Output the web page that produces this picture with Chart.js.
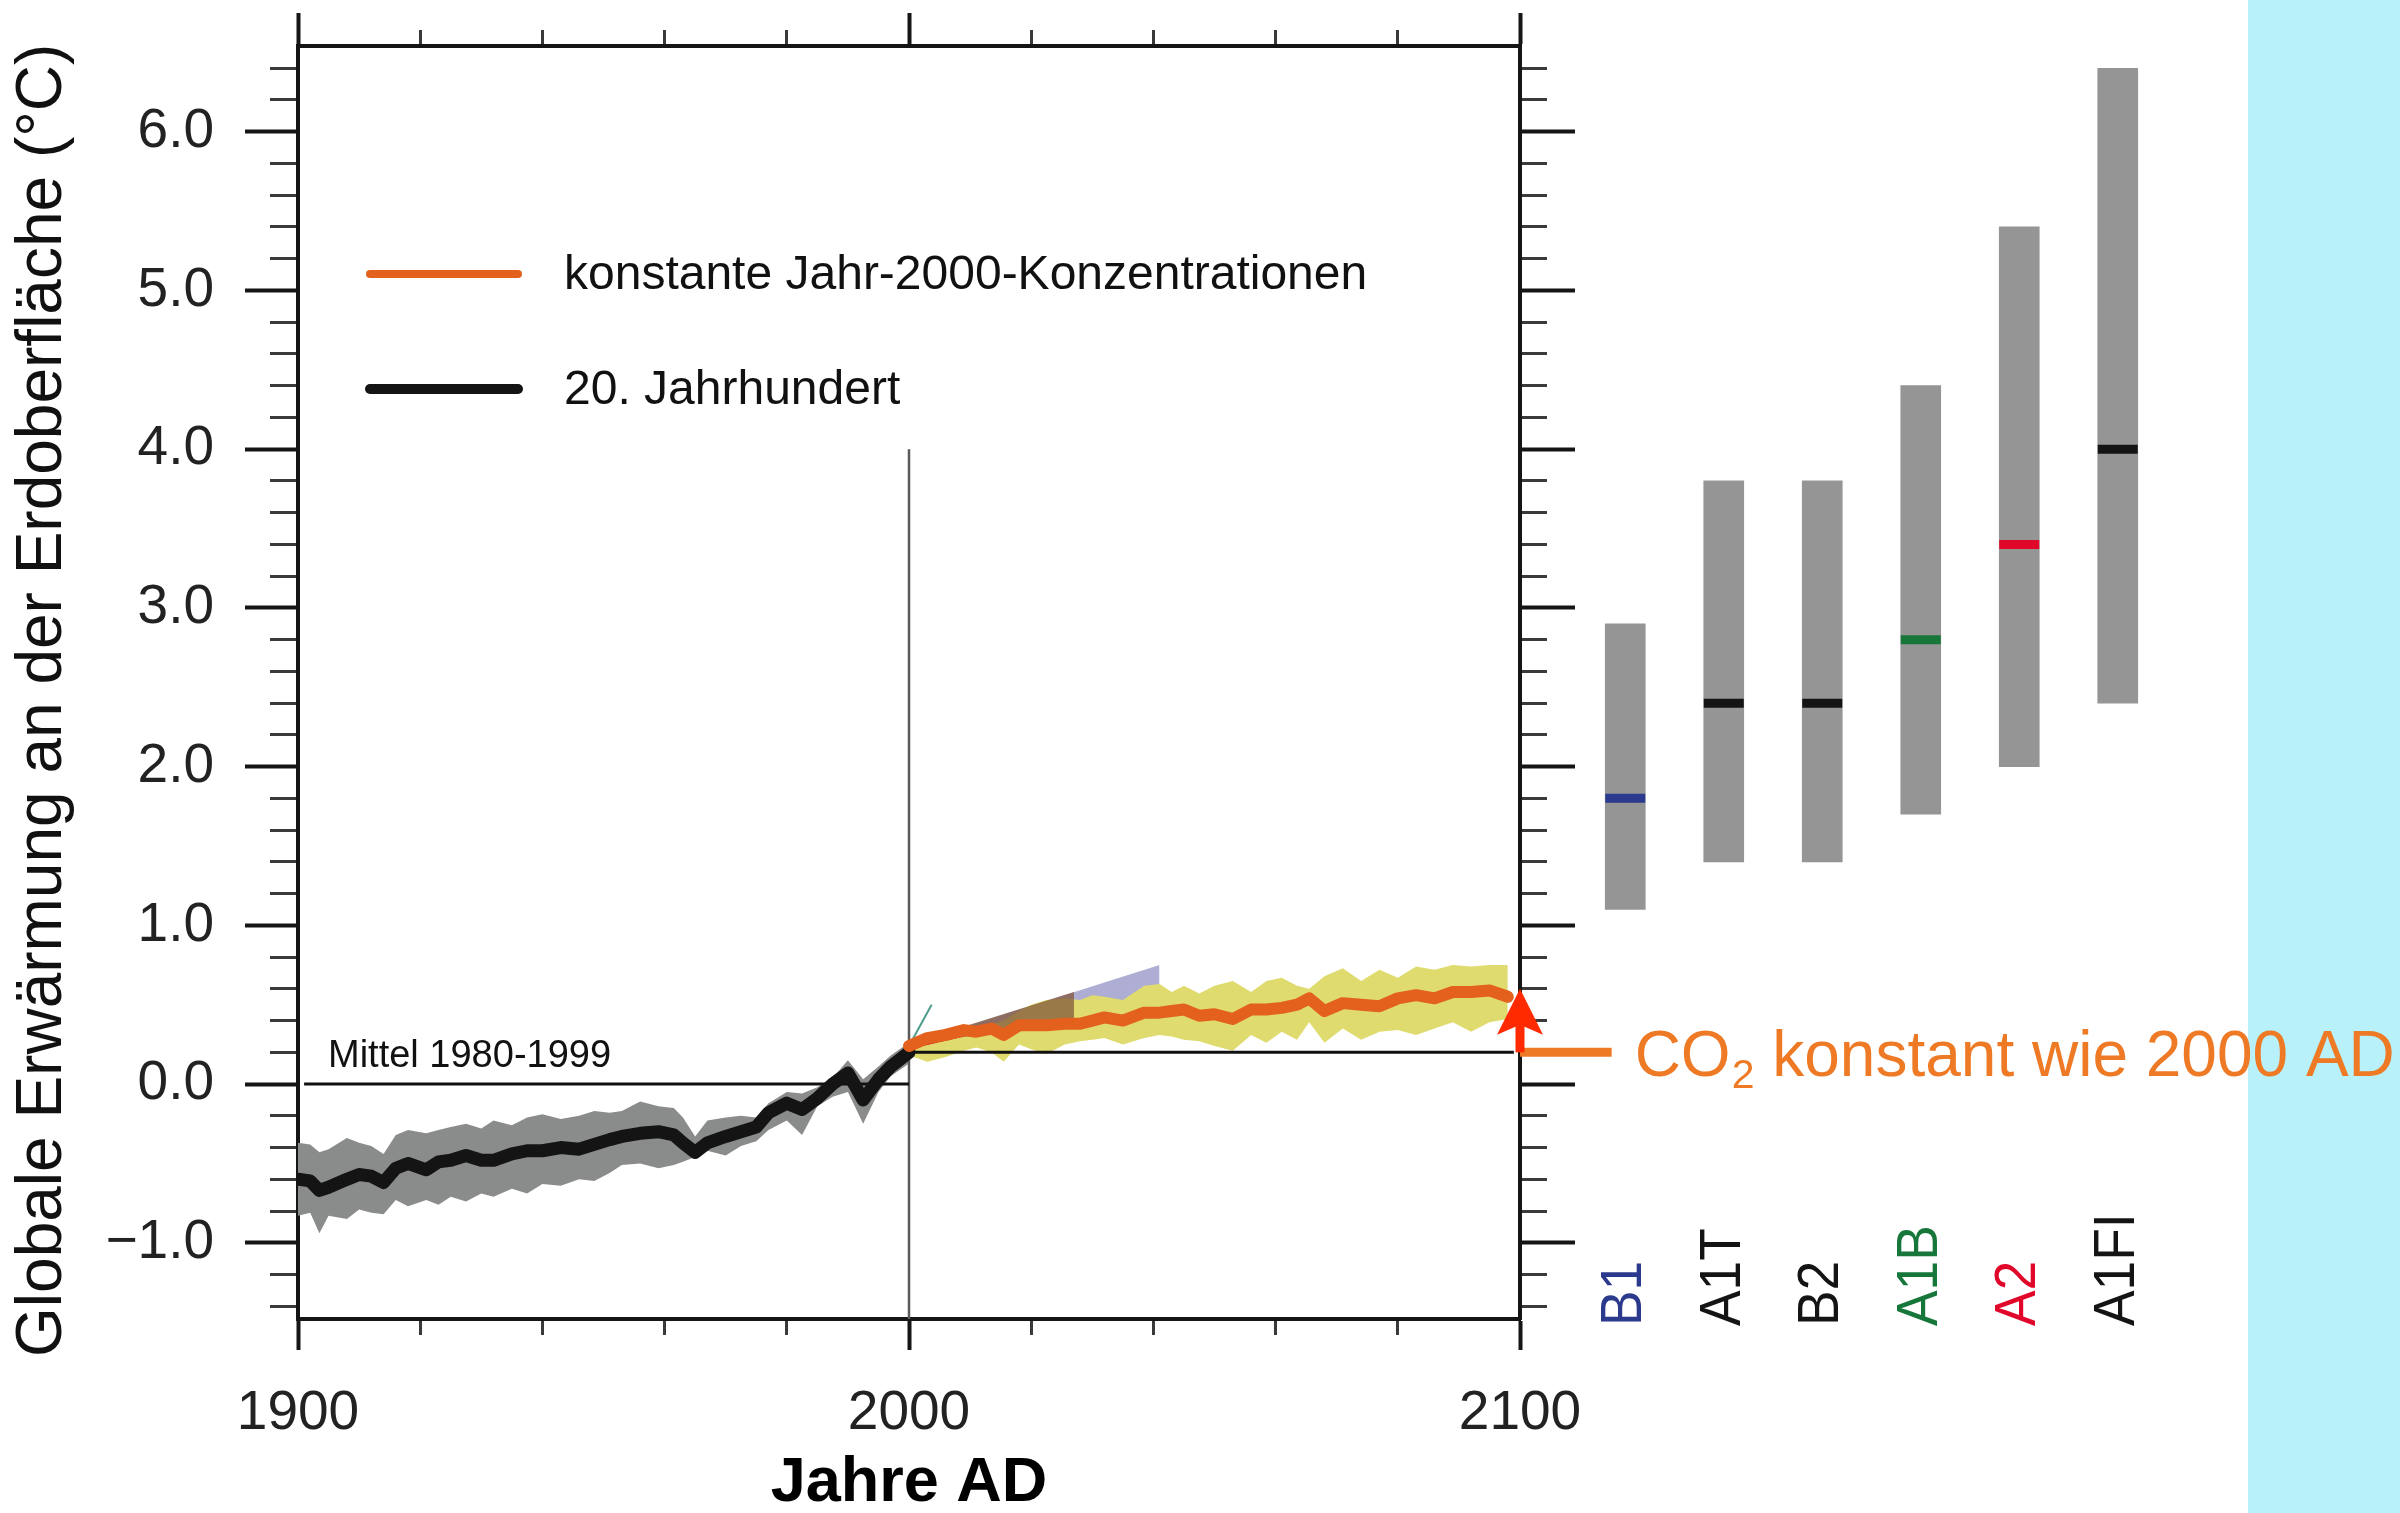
<!DOCTYPE html>
<html>
<head>
<meta charset="utf-8">
<script src="https://cdn.jsdelivr.net/npm/chart.js@4.4.1/dist/chart.umd.min.js"></script>
<style>
  html, body { margin: 0; padding: 0; background: #fff; }
  #wrap { position: relative; width: 2400px; height: 1513px; overflow: hidden; background: #fff; }
  #strip { position: absolute; left: 2248px; top: 0; width: 152px; height: 1513px; background: #b9f1fb; }
  canvas { position: absolute; left: 0; top: 0; }
</style>
</head>
<body>
<div id="wrap">
  <div id="strip"></div>
  <canvas id="main" width="2400" height="1513"></canvas>
  <canvas id="bars" width="2400" height="1513"></canvas>
</div>
<script>
// Axis range
const Y_MIN = -1.48;
const Y_MAX = 6.54;

// 20. Jahrhundert: Modellmittel und Bandbreite
const histYears = [1900, 1902, 1903.5, 1905, 1908, 1910, 1912, 1914, 1916, 1918, 1921, 1923, 1925, 1927.5, 1930, 1932, 1935, 1937.5, 1940, 1943, 1946, 1948.5, 1951, 1953, 1956, 1959, 1961.5, 1963, 1965, 1967, 1970, 1972.5, 1975, 1977, 1980, 1982.5, 1985, 1987.5, 1990, 1992.5, 1995, 1997, 2000];
const histMean  = [-0.60, -0.61, -0.67, -0.65, -0.60, -0.57, -0.58, -0.62, -0.53, -0.50, -0.54, -0.49, -0.48, -0.45, -0.48, -0.48, -0.44, -0.42, -0.42, -0.40, -0.41, -0.38, -0.35, -0.33, -0.31, -0.30, -0.32, -0.37, -0.43, -0.37, -0.33, -0.30, -0.27, -0.18, -0.12, -0.16, -0.09, 0.00, 0.07, -0.10, 0.03, 0.11, 0.20];
const histUpper = [-0.37, -0.38, -0.43, -0.41, -0.34, -0.37, -0.39, -0.44, -0.32, -0.29, -0.31, -0.29, -0.27, -0.25, -0.28, -0.23, -0.26, -0.21, -0.19, -0.22, -0.20, -0.17, -0.18, -0.17, -0.11, -0.14, -0.15, -0.21, -0.33, -0.23, -0.21, -0.20, -0.21, -0.12, -0.05, -0.06, -0.02, 0.04, 0.15, 0.03, 0.11, 0.18, 0.26];
const histLower = [-0.83, -0.81, -0.94, -0.83, -0.85, -0.79, -0.81, -0.82, -0.73, -0.77, -0.73, -0.76, -0.71, -0.74, -0.69, -0.71, -0.66, -0.69, -0.63, -0.64, -0.60, -0.61, -0.56, -0.51, -0.50, -0.53, -0.51, -0.49, -0.46, -0.42, -0.45, -0.39, -0.36, -0.29, -0.23, -0.32, -0.14, -0.08, -0.05, -0.25, -0.05, 0.05, 0.13];

// konstante Jahr-2000-Konzentrationen
const futYears = [2000, 2003, 2006, 2009, 2011, 2013.5, 2015.5, 2018, 2020, 2022.5, 2025.5, 2028, 2030, 2032, 2035, 2038.5, 2041, 2043, 2045, 2047.5, 2050, 2053, 2056, 2058.5, 2061, 2063.5, 2065.5, 2068, 2071, 2074, 2077, 2080, 2083, 2086, 2089, 2092, 2095, 2098];
const futMean  = [0.24, 0.29, 0.31, 0.34, 0.33, 0.35, 0.31, 0.37, 0.37, 0.37, 0.38, 0.38, 0.40, 0.42, 0.40, 0.45, 0.45, 0.46, 0.47, 0.43, 0.44, 0.41, 0.47, 0.47, 0.48, 0.50, 0.54, 0.46, 0.51, 0.50, 0.49, 0.54, 0.56, 0.54, 0.58, 0.58, 0.59, 0.55];
const futUpper = [0.26, 0.31, 0.30, 0.33, 0.36, 0.38, 0.40, 0.46, 0.50, 0.53, 0.54, 0.53, 0.56, 0.55, 0.53, 0.62, 0.63, 0.58, 0.62, 0.57, 0.62, 0.65, 0.58, 0.65, 0.67, 0.62, 0.60, 0.68, 0.73, 0.65, 0.72, 0.67, 0.74, 0.72, 0.75, 0.74, 0.75, 0.75];
const futLower = [0.18, 0.14, 0.17, 0.21, 0.23, 0.20, 0.14, 0.25, 0.22, 0.19, 0.25, 0.27, 0.28, 0.29, 0.25, 0.29, 0.31, 0.30, 0.28, 0.27, 0.24, 0.21, 0.31, 0.26, 0.33, 0.28, 0.39, 0.26, 0.35, 0.28, 0.33, 0.34, 0.31, 0.35, 0.39, 0.33, 0.39, 0.41];

// Reste der Szenario-Kurven nach 2000 (teilweise verdeckt)
const wedgeYears  = [2000, 2041];
const wedgeTop    = [0.25, 0.75];
const wedgeBottom = [0.22, 0.48];
const brownYears  = [2003, 2027];
const brownTop    = [0.29, 0.58];
const brownBottom = [0.27, 0.38];
const redYears    = [2000, 2009];
const redTop      = [0.26, 0.36];
const redBottom   = [0.22, 0.30];
const tealYears   = [2000, 2003.7];
const tealVals    = [0.24, 0.50];

// Referenzlinien
const meanYears  = [1901, 2000];   // Mittel 1980-1999
const meanLevel  = 0.0;
const constYears = [2000, 2099];
const constLevel = 0.2;
const splitYear  = 2000;
const splitTop   = 4.0;
const arrowYear  = 2100;
const arrowFrom  = 0.2;
const arrowTo    = 0.6;
const co2LineEnd = 2115;

// Szenarien 2090-2099
const scenarios = ['B1', 'A1T', 'B2', 'A1B', 'A2', 'A1FI'];
const scenLow   = [1.1, 1.4, 1.4, 1.7, 2.0, 2.4];
const scenHigh  = [2.9, 3.8, 3.8, 4.4, 5.4, 6.4];
const scenBest  = [1.8, 2.4, 2.4, 2.8, 3.4, 4.0];
const scenColors = ['#2b3a8c', '#141414', '#141414', '#17773a', '#e0072b', '#141414'];

// Ticks
const yMajorTicks = [-1, 0, 1, 2, 3, 4, 5, 6];
const yMinorTicks = [-1.4, -1.2, -0.8, -0.6, -0.4, -0.2, 0.2, 0.4, 0.6, 0.8, 1.2, 1.4, 1.6, 1.8, 2.2, 2.4, 2.6, 2.8, 3.2, 3.4, 3.6, 3.8, 4.2, 4.4, 4.6, 4.8, 5.2, 5.4, 5.6, 5.8, 6.2, 6.4];
const xMajorTicks = [1900, 2000, 2100];
const xMinorTicks = [1920, 1940, 1960, 1980, 2020, 2040, 2060, 2080];

const ORANGE = '#e3611d';
const BLACK = '#141414';
const RED = '#ff2a00';
const TXT_ORANGE = '#ee7a26';
const FONT = "'Liberation Sans', Arial, Helvetica, sans-serif";

Chart.defaults.font.family = FONT;
Chart.defaults.color = '#222';

const pts = (xs, ys) => xs.map((x, i) => ({ x: x, y: ys[i] }));
const flat = (xs, v) => xs.map(x => ({ x: x, y: v }));
const setTicks = vals => scale => { scale.ticks = vals.map(v => ({ value: v })); };
// fixed box size, and no extra padding from the tick labels
const fixSize = (w, h) => s => {
  if (w !== null) s.width = w;
  if (h !== null) s.height = h;
  s.paddingTop = s.paddingBottom = s.paddingLeft = s.paddingRight = 0;
};

function band(xs, ys, color, order) {
  return { data: pts(xs, ys), fill: '+1', backgroundColor: color, borderWidth: 0, pointRadius: 0, order: order };
}
function edge(xs, ys, order) {
  return { data: pts(xs, ys), fill: false, borderWidth: 0, pointRadius: 0, order: order };
}

function axis(pos, ticks, len, width, major, extra) {
  const horiz = pos === 'top' || pos === 'bottom';
  return Object.assign({
    type: 'linear',
    position: pos,
    weight: major ? 1 : 0,
    min: horiz ? 1900 : Y_MIN,
    max: horiz ? 2100 : Y_MAX,
    afterBuildTicks: setTicks(ticks),
    ticks: { display: false, autoSkip: false, maxRotation: 0 },
    grid: { drawOnChartArea: false, drawTicks: true, tickLength: len, tickWidth: width, tickColor: major ? '#151515' : '#3a3a3a' },
    border: { display: major, width: 4, color: '#151515' },
    afterFit: horiz ? fixSize(null, 0) : fixSize(0, null)
  }, extra || {});
}

const annotations = {
  id: 'annotations',
  afterDatasetsDraw(chart) {
    const { ctx, scales: { x, y }, chartArea } = chart;
    ctx.save();

    // Pfeilspitze
    const ax = x.getPixelForValue(arrowYear);
    const tip = y.getPixelForValue(arrowTo);
    ctx.fillStyle = RED;
    ctx.beginPath();
    ctx.moveTo(ax, tip);
    ctx.lineTo(ax - 23, tip + 46);
    ctx.lineTo(ax, tip + 36);
    ctx.lineTo(ax + 23, tip + 46);
    ctx.closePath();
    ctx.fill();

    // Mittel 1980-1999
    ctx.fillStyle = '#111';
    ctx.font = '38px ' + FONT;
    ctx.textAlign = 'left';
    ctx.textBaseline = 'alphabetic';
    ctx.fillText('Mittel 1980-1999', chartArea.left + 30, y.getPixelForValue(meanLevel) - 17);

    // CO2 konstant wie 2000 AD
    let tx = x.getPixelForValue(co2LineEnd) + 23;
    const ty = y.getPixelForValue(constLevel) + 24;
    ctx.fillStyle = TXT_ORANGE;
    ctx.font = '64px ' + FONT;
    ctx.fillText('CO', tx, ty);
    tx += ctx.measureText('CO').width + 1;
    ctx.font = '41px ' + FONT;
    ctx.fillText('2', tx, ty + 12);
    tx += ctx.measureText('2').width;
    ctx.font = '64px ' + FONT;
    ctx.fillText(' konstant wie 2000 AD', tx, ty);

    // Legende
    const items = [
      { color: ORANGE, w: 8, y: 274, text: 'konstante Jahr-2000-Konzentrationen', base: 289 },
      { color: BLACK, w: 10, y: 389, text: '20. Jahrhundert', base: 404 }
    ];
    ctx.lineCap = 'round';
    items.forEach(it => {
      ctx.strokeStyle = it.color;
      ctx.lineWidth = it.w;
      ctx.beginPath();
      ctx.moveTo(370, it.y);
      ctx.lineTo(518, it.y);
      ctx.stroke();
      ctx.fillStyle = '#111';
      ctx.font = '48px ' + FONT;
      ctx.fillText(it.text, 564, it.base);
    });
    ctx.restore();
  }
};

new Chart(document.getElementById('main'), {
  type: 'line',
  data: {
    datasets: [
      band(histYears, histUpper, '#8a8c8c', 10),
      edge(histYears, histLower, 10),
      band(wedgeYears, wedgeTop, '#aeadd3', 9),
      edge(wedgeYears, wedgeBottom, 9),
      band(futYears, futUpper, '#e0db6e', 8),
      edge(futYears, futLower, 8),
      band(brownYears, brownTop, 'rgba(130,88,60,0.75)', 7),
      edge(brownYears, brownBottom, 7),
      band(redYears, redTop, '#d8141f', 6),
      edge(redYears, redBottom, 6),
      { data: pts(tealYears, tealVals), borderColor: '#4e9c8c', borderWidth: 2, pointRadius: 0, order: 6 },
      { data: flat(meanYears, meanLevel), borderColor: '#111', borderWidth: 3, pointRadius: 0, order: 5 },
      { data: flat(constYears, constLevel), borderColor: '#111', borderWidth: 3, pointRadius: 0, order: 5 },
      { data: [{ x: splitYear, y: splitTop }, { x: splitYear, y: Y_MIN }], borderColor: '#5a5a5a', borderWidth: 2.5, pointRadius: 0, order: 5 },
      { data: pts(histYears, histMean), borderColor: BLACK, borderWidth: 13, pointRadius: 0, borderJoinStyle: 'round', borderCapStyle: 'round', order: 3 },
      { data: pts(futYears, futMean), borderColor: ORANGE, borderWidth: 12, pointRadius: 0, borderJoinStyle: 'round', borderCapStyle: 'round', order: 2 },
      { data: [{ x: arrowYear, y: arrowFrom }, { x: arrowYear, y: arrowTo - 0.2 }], borderColor: RED, borderWidth: 9, pointRadius: 0, clip: false, order: 1 },
      { data: flat([arrowYear, co2LineEnd], constLevel), borderColor: TXT_ORANGE, borderWidth: 9, pointRadius: 0, clip: false, order: 1 }
    ]
  },
  options: {
    responsive: false,
    devicePixelRatio: 1,
    animation: false,
    layout: { autoPadding: false, padding: { left: 0, top: 46, right: 880, bottom: 0 } },
    elements: { line: { tension: 0 }, point: { radius: 0 } },
    plugins: { legend: { display: false }, tooltip: { enabled: false } },
    scales: {
      x: axis('bottom', xMajorTicks, 31, 4, true, {
        ticks: { display: true, autoSkip: false, maxRotation: 0, padding: 31, color: '#222', font: { size: 55 }, callback: v => String(v) },
        title: { display: true, text: 'Jahre AD', color: '#000', font: { size: 63, weight: 'bold' }, padding: { top: 0, bottom: -8 } },
        afterFit: fixSize(null, 194)
      }),
      xMinor: axis('bottom', xMinorTicks, 16, 3, false),
      xTop: axis('top', xMajorTicks, 33, 4, true),
      xTopMinor: axis('top', xMinorTicks, 16, 3, false),
      y: axis('left', yMajorTicks, 53, 4, true, {
        ticks: { display: true, autoSkip: false, padding: 31, color: '#222', font: { size: 55 },
                 callback: v => (v < 0 ? '\u2212' : '') + Math.abs(v).toFixed(1) },
        title: { display: true, text: 'Globale Erwärmung an der Erdoberfläche (°C)\u00a0\u00a0', color: '#111', font: { size: 64 }, padding: { top: 5, bottom: 0 } },
        afterFit: fixSize(298, null)
      }),
      yMinor: axis('left', yMinorTicks, 28, 3, false),
      yRight: axis('right', yMajorTicks, 55, 4, true),
      yRightMinor: axis('right', yMinorTicks, 27, 3, false)
    }
  },
  plugins: [annotations]
});

// Szenario-Balken rechts
const scenarioLabels = {
  id: 'scenarioLabels',
  afterDraw(chart) {
    const { ctx, scales: { x } } = chart;
    ctx.save();
    ctx.font = '58px ' + FONT;
    ctx.textAlign = 'left';
    ctx.textBaseline = 'middle';
    scenarios.forEach((s, i) => {
      ctx.save();
      ctx.translate(x.getPixelForValue(i), 1326);
      ctx.rotate(-Math.PI / 2);
      ctx.scale(0.92, 1);
      ctx.fillStyle = scenColors[i];
      ctx.fillText(s, 0, 0);
      ctx.restore();
    });
    ctx.restore();
  }
};

new Chart(document.getElementById('bars'), {
  type: 'bar',
  data: {
    labels: scenarios,
    datasets: [
      { type: 'line', data: scenBest, showLine: false, pointStyle: 'line', pointRadius: 20,
        pointBorderWidth: 9, pointBorderColor: scenColors, order: 0 },
      { data: scenLow.map((l, i) => [l, scenHigh[i]]), backgroundColor: '#959595', barThickness: 40, order: 1 }
    ]
  },
  options: {
    responsive: false,
    devicePixelRatio: 1,
    animation: false,
    layout: { autoPadding: false, padding: { left: 1576, right: 233, top: 46, bottom: 194 } },
    plugins: { legend: { display: false }, tooltip: { enabled: false } },
    scales: {
      x: { display: false, offset: true },
      y: { display: false, min: Y_MIN, max: Y_MAX }
    }
  },
  plugins: [scenarioLabels]
});
</script>
</body>
</html>
